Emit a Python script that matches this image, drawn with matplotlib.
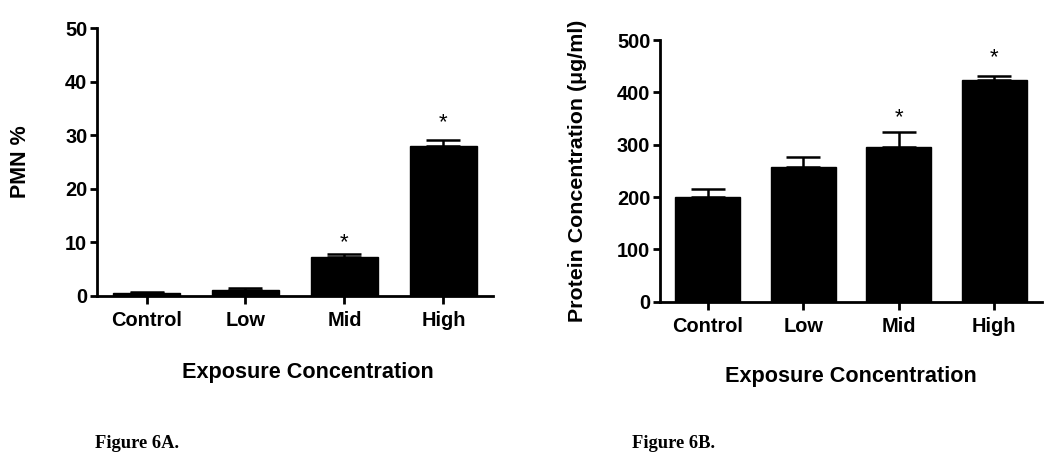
import numpy as np
import matplotlib
matplotlib.use('Agg')
import matplotlib.pyplot as plt

groups = ['Control', 'Low', 'Mid', 'High']

pmn_mean = [0.5, 1.2, 7.2, 28.0]
pmn_err = [0.2, 0.2, 0.6, 1.1]
pmn_star = [None, None, 10.4, 32.8]   # height of the significance mark

prot_mean = [200, 258, 295, 424]
prot_err = [15, 19, 29, 7]
prot_star = [None, None, 356, 472]

plt.rcParams['font.family'] = ['Liberation Sans', 'DejaVu Sans']
plt.rcParams['font.weight'] = 'bold'


def bar_panel(ax, means, errs, stars, ymax, ystep, ylabel, ylab_size, xlab_x, ylab_x):
    x = np.arange(len(groups))
    ax.bar(x, means, width=0.68, color='black', edgecolor='black', zorder=2)
    ax.errorbar(x, means, yerr=[np.zeros(len(errs)), errs], fmt='none', ecolor='black',
                elinewidth=1.8, capsize=12, capthick=1.8, zorder=1)
    for xi, s in zip(x, stars):
        if s is not None:
            ax.annotate('*', (xi, s), xytext=(0, -2), textcoords='offset points',
                        ha='center', va='center', fontsize=16, fontweight='normal')
    ax.set_xlim(-0.5, 3.5)
    ax.set_ylim(0, ymax)
    ax.set_yticks(np.arange(0, ymax + 1, ystep))
    ax.set_xticks(x)
    ax.set_xticklabels(groups)
    for sp in ['top', 'right']:
        ax.spines[sp].set_visible(False)
    for sp in ['left', 'bottom']:
        ax.spines[sp].set_linewidth(2)
    ax.tick_params(axis='both', width=2, labelsize=14.4)
    ax.tick_params(axis='y', length=5, pad=2)
    ax.tick_params(axis='x', length=6, pad=5)
    for lab in ax.get_xticklabels() + ax.get_yticklabels():
        lab.set_fontweight('bold')
    ax.text(xlab_x, -0.285, 'Exposure Concentration', transform=ax.transAxes,
            ha='center', va='center', fontsize=15.6, fontweight='bold')
    ax.text(ylab_x, 0.5, ylabel, transform=ax.transAxes, rotation=90,
            ha='center', va='center', fontsize=ylab_size, fontweight='bold')


fig = plt.figure(figsize=(10.5, 4.57), dpi=100)
ax1 = fig.add_axes([0.0924, 0.3523, 0.377, 0.5864])
ax2 = fig.add_axes([0.6286, 0.3398, 0.3638, 0.5726])

bar_panel(ax1, pmn_mean, pmn_err, pmn_star, 50, 10, 'PMN %', 15.5, 0.533, -0.194)
bar_panel(ax2, prot_mean, prot_err, prot_star, 500, 100, 'Protein Concentration (\u03bcg/ml)', 15.4,
          0.5, -0.215)

fig.text(95 / 1050, 1 - 443 / 457, 'Figure 6A.', family='Liberation Serif',
         fontweight='bold', fontsize=13.3, va='center')
fig.text(632 / 1050, 1 - 443 / 457, 'Figure 6B.', family='Liberation Serif',
         fontweight='bold', fontsize=13.3, va='center')

fig.savefig('out.png', dpi=100)
